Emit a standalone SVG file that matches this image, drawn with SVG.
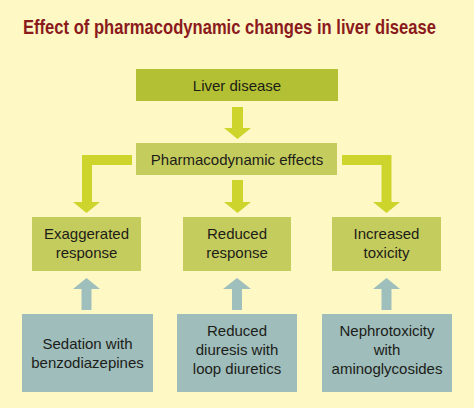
<svg xmlns="http://www.w3.org/2000/svg" width="474" height="408" viewBox="0 0 474 408">
<style>
.t{font-family:"Liberation Sans",Arial,sans-serif;font-size:15px;fill:#1c1c18;text-anchor:middle}
.title{font-family:"Liberation Sans",Arial,sans-serif;font-weight:bold;font-size:19.5px;fill:#8b1a1d}
.g1{fill:#b3c033}
.g2{fill:#c5cc5e}
.b{fill:#9ebdbb}
.ga{fill:#cdd52c}
.ba{fill:#9fbfbd}
</style>
<rect width="474" height="408" fill="#fdf8c4"/>
<g transform="scale(0.851,1)">
<text class="title" x="27" y="34">Effect of pharmacodynamic changes in liver disease</text>
</g>
<g id="connectors">
<polygon class="ga" points="232,107 243,107 243,128 251,128 237.5,139 224,128 232,128"/>
<polygon class="ga" points="232,180 243,180 243,202 251,202 237.5,213 224,202 232,202"/>
<polygon class="ga" points="132,155 132,165 92,165 92,202 100,202 86.5,213 73,202 82,202 82,155"/>
<polygon class="ga" points="342,155 342,165 381.5,165 381.5,202 373,202 386.5,213 400,202 391.5,202 391.5,155"/>
<polygon class="ba" points="81.5,310 91.5,310 91.5,289 100,289 86.5,278 73,289 81.5,289"/>
<polygon class="ba" points="232,310 242,310 242,289 251,289 237,278 223,289 232,289"/>
<polygon class="ba" points="381.5,310 391.5,310 391.5,289 400,289 386.5,278 373,289 381.5,289"/>
</g>
<g id="liver">
<rect class="g1" x="136" y="69" width="202" height="32"/>
<text class="t" x="237" y="90.5">Liver disease</text>
</g>
<g id="pharma">
<rect class="g2" x="136" y="143" width="201" height="32"/>
<text class="t" x="237" y="164.5">Pharmacodynamic effects</text>
</g>
<g id="exaggerated">
<rect class="g2" x="32" y="217" width="109" height="54"/>
<text class="t" x="86.5" y="239">Exaggerated</text>
<text class="t" x="86.5" y="258">response</text>
</g>
<g id="reduced">
<rect class="g2" x="183" y="217" width="108" height="54"/>
<text class="t" x="237" y="239">Reduced</text>
<text class="t" x="237" y="258">response</text>
</g>
<g id="increased">
<rect class="g2" x="332" y="217" width="109" height="54"/>
<text class="t" x="386.5" y="239">Increased</text>
<text class="t" x="386.5" y="258">toxicity</text>
</g>
<g id="sedation">
<rect class="b" x="22" y="314" width="131" height="78"/>
<text class="t" x="87.5" y="349">Sedation with</text>
<text class="t" x="87.5" y="368">benzodiazepines</text>
</g>
<g id="diuresis">
<rect class="b" x="177" y="314" width="120" height="78"/>
<text class="t" x="237" y="336">Reduced</text>
<text class="t" x="237" y="355">diuresis with</text>
<text class="t" x="237" y="374">loop diuretics</text>
</g>
<g id="nephro">
<rect class="b" x="322" y="314" width="130" height="78"/>
<text class="t" x="387" y="336">Nephrotoxicity</text>
<text class="t" x="387" y="355">with</text>
<text class="t" x="387" y="374">aminoglycosides</text>
</g>
</svg>
